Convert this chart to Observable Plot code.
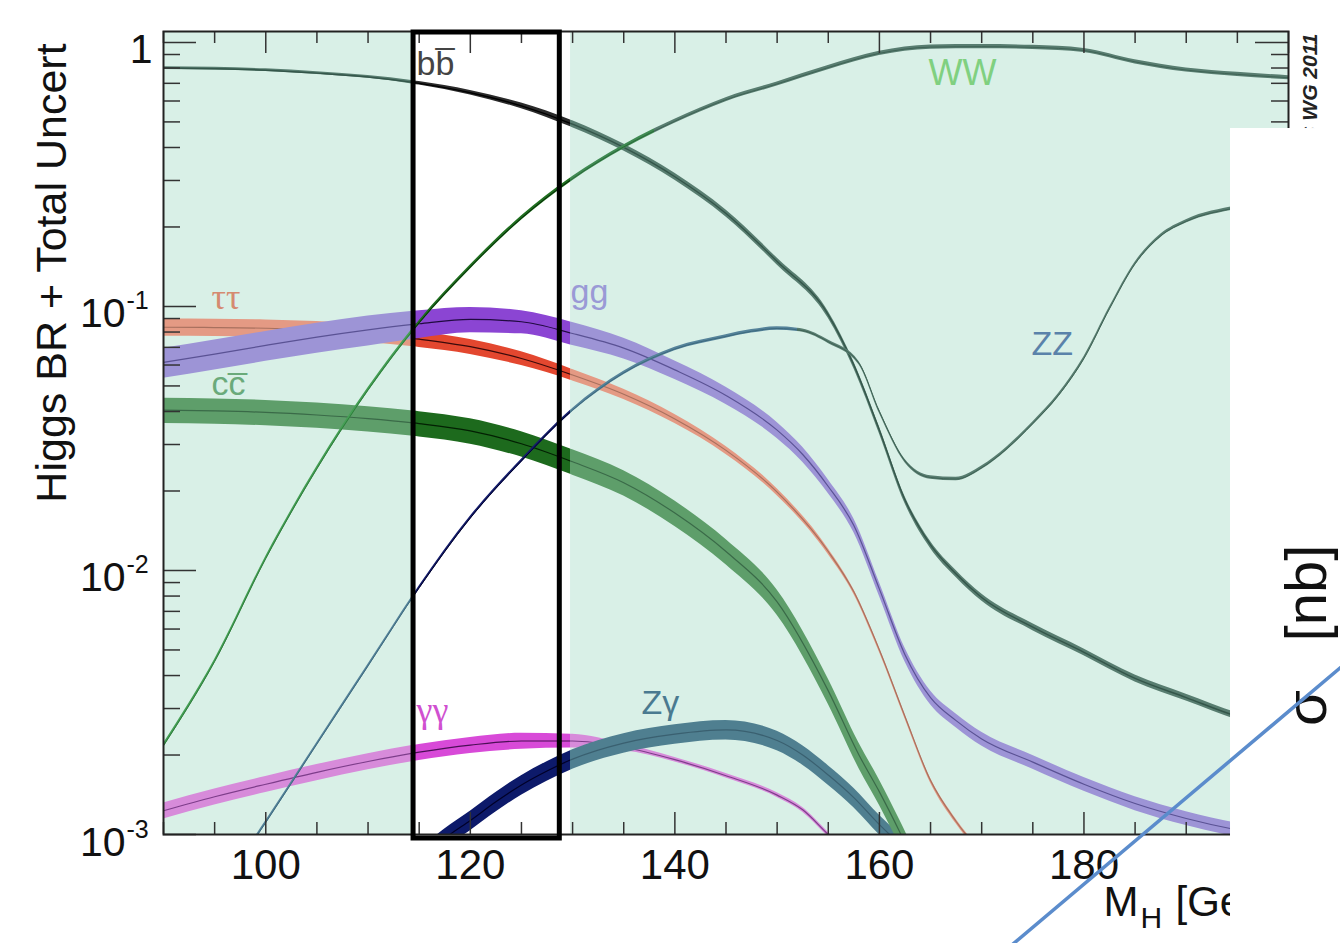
<!DOCTYPE html>
<html>
<head>
<meta charset="utf-8">
<script src="https://cdn.jsdelivr.net/npm/d3@7"></script>
<script src="https://cdn.jsdelivr.net/npm/@observablehq/plot@0.6"></script>
<style>
html,body{margin:0;padding:0;background:#fff;overflow:hidden;}
</style>
</head>
<body>
<div id="chart"></div>
<script>
// ---------------- data ----------------
const bbMass = [90,95,100,105,110,115,120,125,130,135,140,145,150,155,157.5,160,162.5,165,167.5,170,175,180,185,190,195,200];
const bbBR   = [0.80,0.795,0.785,0.765,0.74,0.70,0.645,0.575,0.49,0.40,0.31,0.225,0.148,0.093,0.06,0.034,0.0185,0.0125,0.0097,0.0079,0.0061,0.0049,0.0039,0.0033,0.0028,0.0025];
const bbUnc  = [0.012,0.012,0.012,0.012,0.012,0.015,0.02,0.025,0.03,0.03,0.03,0.03,0.03,0.03,0.03,0.03,0.03,0.03,0.03,0.03,0.03,0.03,0.03,0.03,0.03,0.03];

const wwMass = [90,95,100,105,110,115,120,125,130,135,140,145,150,155,160,165,170,175,180,185,190,195,200];
const wwBR   = [0.00217,0.00452,0.0111,0.0243,0.0483,0.0868,0.141,0.216,0.305,0.402,0.503,0.607,0.696,0.803,0.909,0.960,0.964,0.958,0.932,0.844,0.786,0.757,0.735];
const wwUnc  = 0.018;

const zzMass = [98,100,105,110,115,120,125,130,135,140,145,147.5,150,152.5,155,158,160,162.5,165,167.5,170,172.5,175,177.5,180,182.5,185,187.5,190,195,200];
const zzBR   = [0.00085,0.00111,0.0022,0.00435,0.0086,0.0158,0.026,0.0405,0.056,0.069,0.077,0.0805,0.0825,0.081,0.0735,0.061,0.040,0.026,0.0225,0.0222,0.0245,0.029,0.036,0.046,0.0635,0.098,0.145,0.185,0.21,0.237,0.255];
const zzUnc  = 0.015;

const tautauMass = [90,95,100,105,110,115,120,125,130,135,140,145,150,155,157.5,160,162.5,165,167.5,170];
const tautauBR   = [0.0834,0.0832,0.0827,0.0815,0.0789,0.0752,0.0704,0.0635,0.055,0.0465,0.0375,0.0285,0.0198,0.0118,0.0083,0.0050,0.0028,0.0016,0.00112,0.00085];
const tautauUnc  = [0.075,0.075,0.075,0.075,0.075,0.07,0.065,0.06,0.05,0.045,0.04,0.035,0.03,0.025,0.02,0.02,0.02,0.02,0.02,0.02];

const ggMass = [90,95,100,105,110,115,120,125,130,135,140,145,150,152.5,155,157.5,160,162.5,165,167.5,170,175,180,185,190,195,200];
const ggBR   = [0.0614,0.066,0.0712,0.0765,0.0815,0.086,0.0893,0.0875,0.079,0.0695,0.0575,0.046,0.034,0.0275,0.0208,0.0148,0.0085,0.0048,0.0033,0.0027,0.0023,0.00188,0.00155,0.00131,0.00115,0.00104,0.00097];
const ggUnc  = [0.13,0.13,0.13,0.13,0.13,0.12,0.11,0.1,0.1,0.09,0.08,0.075,0.07,0.065,0.06,0.06,0.06,0.06,0.06,0.06,0.06,0.06,0.06,0.06,0.06,0.06,0.06];

const ccMass = [90,95,100,105,110,115,120,125,130,135,140,145,150,155,158,160,162,164];
const ccBR   = [0.0405,0.0402,0.0397,0.0388,0.0376,0.036,0.0338,0.0302,0.0258,0.0215,0.0165,0.0118,0.0076,0.0035,0.002,0.00145,0.00102,0.0007];
const ccUnc  = 0.11;

const gamgamMass = [90,95,100,105,110,115,120,125,130,135,140,145,150,152.5,155,157];
const gamgamBR   = [0.00123,0.00139,0.00155,0.00172,0.00189,0.00205,0.00218,0.00226,0.00226,0.00214,0.00192,0.00167,0.00141,0.00124,0.00100,0.00085];
const gamgamUnc  = [0.07,0.07,0.07,0.07,0.07,0.07,0.07,0.07,0.06,0.03,0.02,0.02,0.02,0.02,0.02,0.02];

const zgamMass = [116,118,120,122.5,125,127.5,130,135,140,145,150,152.5,155,157.5,160,162];
const zgamBR   = [0.00087,0.001,0.00113,0.00133,0.00154,0.00174,0.00193,0.00222,0.0024,0.00249,0.00227,0.002,0.00168,0.00138,0.00109,0.00092];
const zgamUnc  = 0.085;

// axis ticks and labels
const xTickValues = [100,120,140,160,180,200];
const xTickLabels = ["100","120","140","160","180","200"];
const yTickValues = [1,0.1,0.01,0.001];
const yTickMantissa = ["1","10","10","10"];
const yTickExponent = ["","-1","-2","-3"];

// highlighted mass window: box left line, box right line, end of white area
const windowMass = [114.45, 128.75, 129.8];
const massRange = [90, 200];

// ---------------- build ----------------
const mk = (mass, br, unc) => mass.map((m, i) => {
  const u = Array.isArray(unc) ? unc[i] : unc;
  return {m, v: br[i], lo: br[i] * (1 - u), hi: br[i] * (1 + u)};
});

const [WL, WR, WE] = windowMass, [M0, M1] = massRange;
const series = [
  {key:"gamgam", d: mk(gamgamMass, gamgamBR, gamgamUnc), lw:1.2,
   pieces:[[M0,WL,{band:"#d78bda", line:"#7d3d8a"}],[WE,M1,{band:"#d78bda", line:"#7d3d8a"}],[WL,WE,{band:"#d84ad8", line:"#4a0f55"}]]},
  {key:"zgam", d: mk(zgamMass, zgamBR, zgamUnc), lw:1.2,
   pieces:[[M0,WL,{band:"#4f7f90", line:"#3a6070"}],[WE,M1,{band:"#4f7f90", line:"#3a6070"}],[WL,WE,{band:"#0d1a6a", line:"#000028"}]]},
  {key:"cc", d: mk(ccMass, ccBR, ccUnc), lw:1.2,
   pieces:[[M0,WL,{band:"#5e9e6a", line:"#3a6a48"}],[WE,M1,{band:"#5e9e6a", line:"#3a6a48"}],[WL,WE,{band:"#1d6a1d", line:"#032003"}]]},
  {key:"tautau", d: mk(tautauMass, tautauBR, tautauUnc), lw:1.2,
   pieces:[[M0,WL,{band:"#e49a84", line:"#a8705e"}],[WE,M1,{band:"#e49a84", line:"#a8705e"}],[WL,WE,{band:"#e3472f", line:"#3a0a0a"}]]},
  {key:"gg", d: mk(ggMass, ggBR, ggUnc), lw:1.2,
   pieces:[[M0,WL,{band:"#9d94d6", line:"#5a5294"}],[WE,M1,{band:"#9d94d6", line:"#5a5294"}],[WL,WE,{band:"#8b45d3", line:"#200a40"}]]},
  {key:"bb", d: mk(bbMass, bbBR, bbUnc), lw:1.4,
   pieces:[[M0,WL,{band:"#587d70", line:"#34564a"}],[WE,M1,{band:"#587d70", line:"#34564a"}],[WL,WE,{band:"#2a2a2a", line:"#000000"}]]},
  {key:"zz", d: mk(zzMass, zzBR, zzUnc), lw:1.0,
   pieces:[[M0,WL,{band:"#55839a", line:"#3d6a7e"}],[WE,152,{band:"#55839a", line:"#3d6a7e"}],[152,M1,{band:"#587d70", line:"#3f6355"}],[WL,WE,{band:"#141c6c", line:"#000028"}]]},
  {key:"ww", d: mk(wwMass, wwBR, wwUnc), lw:1.0,
   pieces:[[M0,WL,{band:"#45a055", line:"#2f7c3c"}],[WE,138,{band:"#3f8a52", line:"#2a6a3a"}],[138,M1,{band:"#587d70", line:"#3f6355"}],[WL,WE,{band:"#1f6f1f", line:"#062806"}]]}
];

const curveMarks = [];
for (const s of series) {
  for (const [a, b, c] of s.pieces) {
    const tag = `clip:${a}:${b}`;
    curveMarks.push(
      Plot.areaY(s.d, {x:"m", y1:"lo", y2:"hi", fill:c.band, curve:"monotone-x", ariaDescription:tag}),
      Plot.line(s.d, {x:"m", y:"v", stroke:c.line, strokeWidth:s.lw, curve:"monotone-x", ariaDescription:tag})
    );
  }
}

const W = 1125, H = 803; // frame size in px (used only for tick lengths)
const xMinor = d3.range(90, 201, 5).filter(v => !xTickValues.includes(v));
const yMinor = [];
for (const dec of [0.001, 0.01, 0.1]) for (let k = 2; k <= 9; k++) yMinor.push(k * dec);
const tickStyle = {stroke:"#333", strokeWidth:1.5};

const SANS = "'Liberation Sans', Arial, Helvetica, sans-serif";
const SERIF = "'Liberation Serif', 'Times New Roman', serif";

const labels = [
  {t:"bb\u0305", m:114.74, v:0.750, c:"#444444", f:SANS, s:34},
  {t:"WW",       m:164.8,  v:0.687, c:"#80d080", f:SANS, s:36},
  {t:"\u03c4\u03c4", m:94.69, v:0.0982, c:"#d58a70", f:SERIF, s:36},
  {t:"gg",       m:129.8,  v:0.1027, c:"#9a9ad6", f:SANS, s:34},
  {t:"cc\u0305", m:94.69,  v:0.0460, c:"#6aaa7a", f:SANS, s:34},
  {t:"ZZ",       m:174.87, v:0.0652, c:"#5a82aa", f:SANS, s:34},
  {t:"\u03b3\u03b3", m:114.74, v:0.00267, c:"#d050d0", f:SERIF, s:36},
  {t:"Z\u03b3",  m:136.74, v:0.00286, c:"#4a7a90", f:SANS, s:34}
];
const labelMarks = labels.map(l => Plot.text([l], {x:"m", y:"v", text:"t", fill:l.c, fontFamily:l.f, fontSize:l.s, textAnchor:"start", lineAnchor:"bottom"}));

// decoration: the overlapping panel of the next slide and its blue curve
const panel = [{m1:194.33, m2:240, v1:1e-5, v2:0.472}];
const blueLine = [{m:169.89, v:3.03e-4}, {m:205.58, v:0.00445}];

const plot = Plot.plot({
  width: 1340,
  height: 943,
  marginLeft: 163,
  marginRight: 52,
  marginTop: 31,
  marginBottom: 109,
  x: {domain:massRange, axis:null},
  y: {type:"log", domain:[1e-3,1.1], axis:null},
  style: {fontFamily: SANS, background:"#ffffff", overflow:"visible"},
  marks: [
    Plot.frame({fill:"#d9f0e7", stroke:"none"}),
    Plot.rect([0], {x1:()=>WL, x2:()=>WE, fill:"#ffffff"}),
    ...curveMarks,
    Plot.ruleX(xTickValues, {x:d=>d, insetTop:H-22, ...tickStyle}),
    Plot.ruleX(xMinor, {x:d=>d, insetTop:H-12, ...tickStyle}),
    Plot.ruleX(xTickValues, {x:d=>d, insetBottom:H-22, ...tickStyle}),
    Plot.ruleX(xMinor, {x:d=>d, insetBottom:H-12, ...tickStyle}),
    Plot.ruleY(yTickValues, {y:d=>d, insetRight:W-33, ...tickStyle}),
    Plot.ruleY(yMinor, {y:d=>d, insetRight:W-17, ...tickStyle}),
    Plot.ruleY(yTickValues, {y:d=>d, insetLeft:W-33, ...tickStyle}),
    Plot.ruleY(yMinor, {y:d=>d, insetLeft:W-17, ...tickStyle}),
    Plot.frame({stroke:"#222", strokeWidth:2}),
    Plot.rect([0], {x1:()=>WL, x2:()=>WR, fill:"none", stroke:"#000", strokeWidth:5, insetBottom:-4, insetTop:1}),
    ...labelMarks,
    Plot.text(xTickValues, {x:d=>d, text:(d,i)=>xTickLabels[i], frameAnchor:"bottom", dy:44, lineAnchor:"bottom", fontSize:42, fill:"#111"}),
    Plot.text(yTickValues.filter((d,i)=>yTickExponent[i]===""), {y:d=>d, text:d=>yTickMantissa[yTickValues.indexOf(d)], frameAnchor:"left", dx:-11, dy:21, textAnchor:"end", lineAnchor:"bottom", fontSize:41, fill:"#111"}),
    Plot.text(yTickValues.filter((d,i)=>yTickExponent[i]!==""), {y:d=>d, text:d=>yTickMantissa[yTickValues.indexOf(d)], frameAnchor:"left", dx:-38, dy:21, textAnchor:"end", lineAnchor:"bottom", fontSize:41, fill:"#111"}),
    Plot.text(yTickValues.filter((d,i)=>yTickExponent[i]!==""), {y:d=>d, text:d=>yTickExponent[yTickValues.indexOf(d)], frameAnchor:"left", dx:-37, dy:3, textAnchor:"start", lineAnchor:"bottom", fontSize:25, fill:"#111"}),
    Plot.text(["Higgs BR + Total Uncert"], {frameAnchor:"left", dx:-98, dy:-160, rotate:-90, textAnchor:"middle", lineAnchor:"bottom", fontSize:43, fill:"#111"}),
    Plot.text(["M"], {frameAnchor:"bottom-right", dx:-185, dy:81, textAnchor:"start", lineAnchor:"bottom", fontSize:42, fill:"#111"}),
    Plot.text(["H"], {frameAnchor:"bottom-right", dx:-148, dy:93, textAnchor:"start", lineAnchor:"bottom", fontSize:30, fill:"#111"}),
    Plot.text(["[GeV]"], {frameAnchor:"bottom-right", dx:-113, dy:81, textAnchor:"start", lineAnchor:"bottom", fontSize:42, fill:"#111"}),
    Plot.text(["LHC HIGGS XS WG 2011"], {frameAnchor:"top-right", dx:28, dy:2, rotate:-90, textAnchor:"end", lineAnchor:"bottom", fontSize:21, fontWeight:"bold", fontStyle:"italic", fill:"#222"}),
    Plot.rect(panel, {x1:"m1", x2:"m2", y1:"v1", y2:"v2", fill:"#ffffff"}),
    Plot.text(["[nb]"], {frameAnchor:"right", dx:37, dy:160, rotate:-90, textAnchor:"middle", lineAnchor:"bottom", fontSize:58, fill:"#111"}),
    Plot.text(["\u03c3"], {frameAnchor:"right", dx:37, dy:275, rotate:-90, textAnchor:"middle", lineAnchor:"bottom", fontSize:58, fill:"#111"}),
    Plot.line(blueLine, {x:"m", y:"v", stroke:"#5b8ccc", strokeWidth:3.5})
  ]
});

// restrict each curve piece to its mass range with a nested viewport
try {
  const xs = plot.scale("x"), ys = plot.scale("y");
  const ns = "http://www.w3.org/2000/svg";
  const ya = ys.apply(1.1), yb = ys.apply(1e-3);
  for (const g of Array.from(plot.querySelectorAll('[aria-description^="clip:"]'))) {
    const [, a, b] = g.getAttribute("aria-description").split(":").map(Number);
    const xa = xs.apply(a), xb = xs.apply(b);
    const vp = document.createElementNS(ns, "svg");
    vp.setAttribute("x", xa); vp.setAttribute("y", ya);
    vp.setAttribute("width", xb - xa); vp.setAttribute("height", yb - ya);
    vp.setAttribute("viewBox", `${xa} ${ya} ${xb - xa} ${yb - ya}`);
    vp.setAttribute("overflow", "hidden");
    g.parentNode.insertBefore(vp, g);
    vp.appendChild(g);
  }
} catch (e) { console.error(e); }

document.getElementById("chart").appendChild(plot);
</script>
</body>
</html>
